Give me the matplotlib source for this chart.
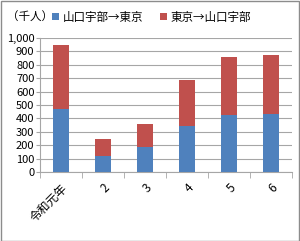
import matplotlib
matplotlib.use("Agg")
import matplotlib.pyplot as plt
import numpy as np
from matplotlib.patches import Rectangle

plt.rcParams['font.family'] = ['Noto Sans CJK JP', 'DejaVu Sans']

categories = ["令和元年", "2", "3", "4", "5", "6"]
ube_to_tokyo = [468, 120, 185, 340, 428, 432]
tokyo_to_ube = [480, 125, 172, 345, 427, 438]
series_names = ["山口宇部→東京", "東京→山口宇部"]
unit_label = "（千人）"

blue = "#4f81bd"
red = "#c0504d"
grid_c = "#a6a6a6"

fig = plt.figure(figsize=(3.0, 2.41), dpi=100)
ax = fig.add_axes([40/300, 1-172/241, 252/300, 134/241])

x = np.arange(len(categories))
ax.bar(x, ube_to_tokyo, width=0.4, color=blue, label=series_names[0], zorder=3)
ax.bar(x, tokyo_to_ube, width=0.4, bottom=ube_to_tokyo, color=red, label=series_names[1], zorder=3)

ax.set_xlim(-0.5, len(categories) - 0.5)
ax.set_ylim(0, 1000)
ax.set_yticks(np.arange(0, 1001, 100))
ax.set_yticklabels([f"{v:,}" for v in range(0, 1001, 100)], fontsize=8)
ax.yaxis.grid(True, color=grid_c, linewidth=0.8, zorder=0)
ax.set_axisbelow(True)

ax.set_xticks(x)
ax.set_xticklabels(categories, fontsize=8.5, rotation=45, ha='right', va='top', rotation_mode='anchor')
ax.tick_params(axis='x', length=0, pad=7)
ax.set_xticks(np.arange(-0.5, len(categories), 1), minor=True)
ax.tick_params(axis='x', which='minor', length=4, color=grid_c, direction='out')
ax.tick_params(axis='y', length=3, color=grid_c, pad=1, direction='out')

for s in ['top', 'right']:
    ax.spines[s].set_visible(False)
for s in ['left', 'bottom']:
    ax.spines[s].set_color(grid_c)
    ax.spines[s].set_linewidth(0.8)

fig.text(7/300, 1-17/241, unit_label, fontsize=8.3, va='center', ha='left')
leg = fig.legend(loc='center left', bbox_to_anchor=(52/300, 1-17/241), ncol=2,
                 frameon=False, fontsize=8.3, handlelength=0.6, handleheight=0.6,
                 handletextpad=0.3, columnspacing=1.5, borderaxespad=0, borderpad=0)

fig.patches.append(Rectangle((0.002, 0.002), 0.996, 0.995, transform=fig.transFigure,
                             fill=False, edgecolor='#8c8c8c', linewidth=1.0))

fig.savefig("out.png", dpi=100)
